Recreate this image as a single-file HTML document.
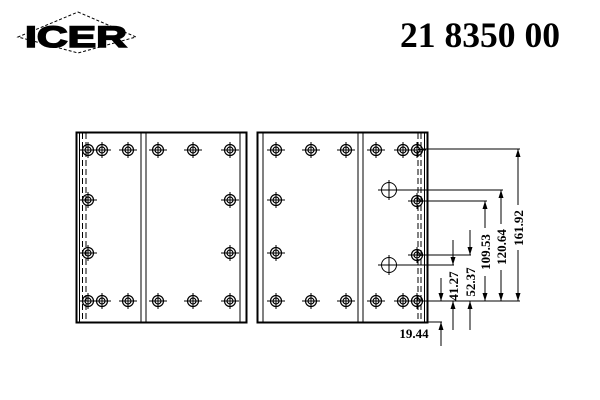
<!DOCTYPE html>
<html><head><meta charset="utf-8"><style>
html,body{margin:0;padding:0;background:#fff;width:600px;height:400px;overflow:hidden}
svg{display:block}
text{font-family:"Liberation Serif",serif;font-weight:bold;fill:#000}
</style></head><body>
<svg width="600" height="400" viewBox="0 0 600 400" xmlns="http://www.w3.org/2000/svg">
<defs>
<g id="h">
<circle r="5.5" fill="none" stroke="#000" stroke-width="1.2"/>
<circle r="3" fill="none" stroke="#000" stroke-width="1.2"/>
<line x1="-9" y1="0" x2="9" y2="0" stroke="#000" stroke-width="1"/>
<line x1="0" y1="-8" x2="0" y2="8" stroke="#000" stroke-width="1"/>
</g>
<g id="bh">
<circle r="7.5" fill="none" stroke="#000" stroke-width="1"/>
<line x1="-11" y1="0" x2="11" y2="0" stroke="#000" stroke-width="1"/>
<line x1="0" y1="-10" x2="0" y2="10" stroke="#000" stroke-width="1"/>
</g>
<path id="ad" d="M-2.5,-8 L2.5,-8 L0,0 Z" fill="#000"/>
<path id="au" d="M-2.5,8 L2.5,8 L0,0 Z" fill="#000"/>
</defs>
<polygon points="78,12 136,37 78,53 18,37" fill="none" stroke="#000" stroke-width="1" stroke-dasharray="3,2"/>
<text x="76" y="47" text-anchor="middle" style="font-family:'Liberation Sans',sans-serif;font-weight:900;font-size:30px" textLength="102" lengthAdjust="spacingAndGlyphs" stroke="#000" stroke-width="1.5">ICER</text>
<text x="480" y="47" text-anchor="middle" font-size="36" textLength="160" lengthAdjust="spacingAndGlyphs">21 8350 00</text>
<g stroke="#000" fill="none" stroke-width="1">
<rect x="76.5" y="132.5" width="170" height="190" stroke-width="2"/>
<line x1="79.5" y1="133" x2="79.5" y2="322"/>
<line x1="82.5" y1="133" x2="82.5" y2="322" stroke-dasharray="6,3"/>
<line x1="86" y1="133" x2="86" y2="322" stroke-dasharray="6,3"/>
<line x1="141" y1="133" x2="141" y2="322"/>
<line x1="146" y1="133" x2="146" y2="322"/>
<line x1="240" y1="133" x2="240" y2="322"/>
<rect x="257.5" y="132.5" width="170" height="190" stroke-width="2"/>
<line x1="263" y1="133" x2="263" y2="322"/>
<line x1="358" y1="133" x2="358" y2="322"/>
<line x1="363" y1="133" x2="363" y2="322"/>
<line x1="424.5" y1="133" x2="424.5" y2="322"/>
<line x1="418" y1="133" x2="418" y2="322" stroke-dasharray="6,3"/>
<line x1="421" y1="133" x2="421" y2="322" stroke-dasharray="6,3"/>
<line x1="418" y1="149" x2="520" y2="149"/>
<line x1="389" y1="190" x2="503" y2="190"/>
<line x1="418" y1="201" x2="487" y2="201"/>
<line x1="418" y1="255" x2="471" y2="255"/>
<line x1="389" y1="265" x2="454" y2="265"/>
<line x1="418" y1="301" x2="520" y2="301"/>
<line x1="428" y1="322" x2="442" y2="322"/>
<line x1="518" y1="149" x2="518" y2="205"/><line x1="518" y1="250" x2="518" y2="301"/>
<line x1="501" y1="190" x2="501" y2="224"/><line x1="501" y1="270" x2="501" y2="301"/>
<line x1="485" y1="201" x2="485" y2="228"/><line x1="485" y1="276" x2="485" y2="301"/>
<line x1="470" y1="230" x2="470" y2="255"/><line x1="470" y1="301" x2="470" y2="330"/>
<line x1="453" y1="240" x2="453" y2="265"/><line x1="453" y1="301" x2="453" y2="330"/>
<line x1="441" y1="278" x2="441" y2="301"/><line x1="441" y1="322" x2="441" y2="346"/>
</g>
<use href="#h" x="88" y="150"/><use href="#h" x="102" y="150"/><use href="#h" x="128" y="150"/>
<use href="#h" x="158" y="150"/><use href="#h" x="193" y="150"/><use href="#h" x="230" y="150"/>
<use href="#h" x="88" y="301"/><use href="#h" x="102" y="301"/><use href="#h" x="128" y="301"/>
<use href="#h" x="158" y="301"/><use href="#h" x="193" y="301"/><use href="#h" x="230" y="301"/>
<use href="#h" x="88" y="200"/><use href="#h" x="88" y="253"/><use href="#h" x="230" y="200"/><use href="#h" x="230" y="253"/>
<use href="#h" x="276" y="150"/><use href="#h" x="311" y="150"/><use href="#h" x="346" y="150"/>
<use href="#h" x="376" y="150"/><use href="#h" x="403" y="150"/><use href="#h" x="417" y="150"/>
<use href="#h" x="276" y="301"/><use href="#h" x="311" y="301"/><use href="#h" x="346" y="301"/>
<use href="#h" x="376" y="301"/><use href="#h" x="403" y="301"/><use href="#h" x="417" y="301"/>
<use href="#h" x="276" y="200"/><use href="#h" x="276" y="253"/><use href="#h" x="417" y="201"/><use href="#h" x="417" y="255"/>
<use href="#bh" x="389" y="190"/><use href="#bh" x="389" y="265"/>
<use href="#au" x="518" y="149"/><use href="#ad" x="518" y="301"/>
<use href="#au" x="501" y="190"/><use href="#ad" x="501" y="301"/>
<use href="#au" x="485" y="201"/><use href="#ad" x="485" y="301"/>
<use href="#ad" x="470" y="255"/><use href="#au" x="470" y="301"/>
<use href="#ad" x="453" y="265"/><use href="#au" x="453" y="301"/>
<use href="#ad" x="441" y="301"/><use href="#au" x="441" y="322"/>
<g font-size="13">
<text transform="translate(523,228) rotate(-90)" text-anchor="middle">161.92</text>
<text transform="translate(506,247) rotate(-90)" text-anchor="middle">120.64</text>
<text transform="translate(490,252) rotate(-90)" text-anchor="middle">109.53</text>
<text transform="translate(475,282) rotate(-90)" text-anchor="middle">52.37</text>
<text transform="translate(458,286) rotate(-90)" text-anchor="middle">41.27</text>
<text x="414" y="338" text-anchor="middle">19.44</text>
</g>
</svg>
</body></html>
